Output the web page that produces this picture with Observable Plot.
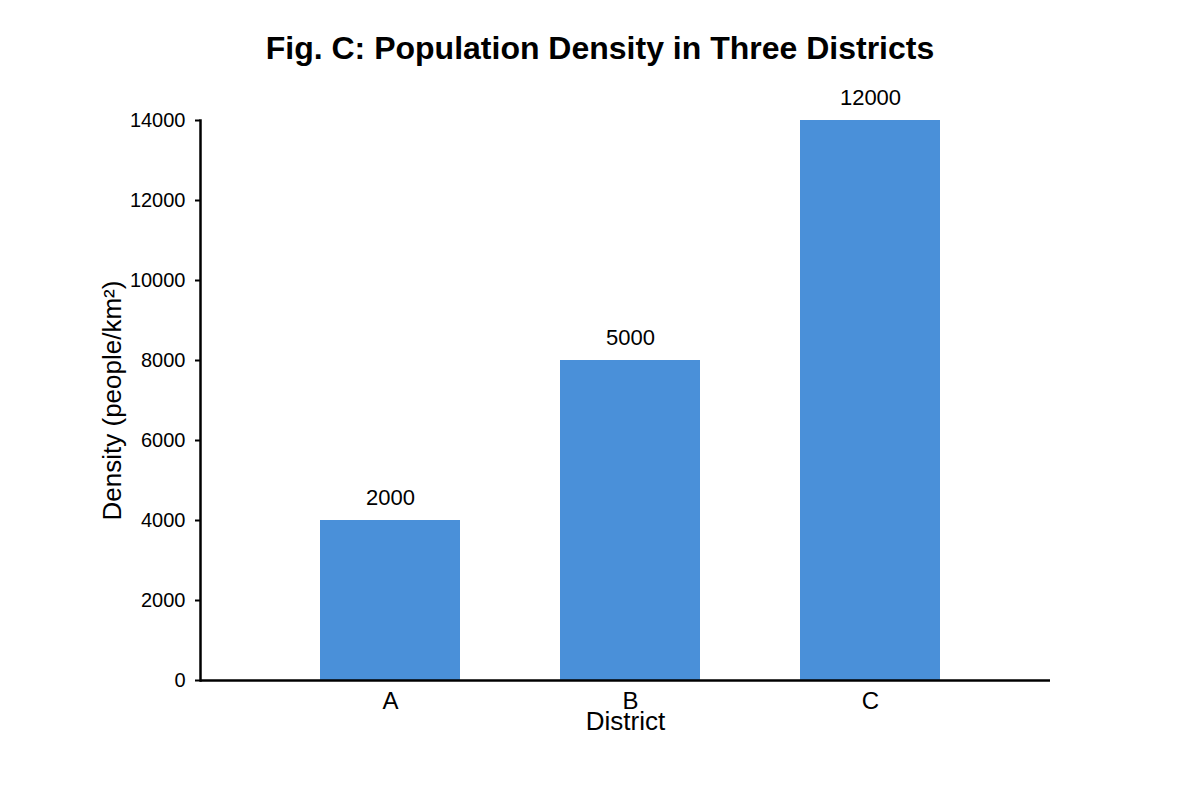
<!DOCTYPE html>
<html>
<head>
<meta charset="utf-8">
<script src="https://cdn.jsdelivr.net/npm/d3@7"></script>
<script src="https://cdn.jsdelivr.net/npm/@observablehq/plot@0.6"></script>
<style>
  html, body { margin: 0; padding: 0; background: #fff; }
  #wrap { width: 1200px; height: 800px; font-family: "Liberation Sans", Arial, sans-serif; }
  #title { height: 60px; line-height: 96px; overflow: visible; text-align: center; font-weight: bold; font-size: 32px; color: #000; position: relative; z-index: 1; }
  svg { display: block; }
</style>
</head>
<body>
<div id="wrap">
  <div id="title">Fig. C: Population Density in Three Districts</div>
  <div id="chart"></div>
</div>
<script>
const districts = ["A", "B", "C"];
const barHeights = [4000, 8000, 14000];
const valueLabels = ["2000", "5000", "12000"];
const yTicks = [0, 2000, 4000, 6000, 8000, 10000, 12000, 14000];
const xTitle = "District";
const yTitle = "Density (people/km²)";

const data = districts.map((d, i) => ({district: d, height: barHeights[i], label: valueLabels[i]}));

const chart = Plot.plot({
  width: 1200,
  height: 740,
  marginTop: 60,
  marginBottom: 120,
  marginLeft: 200,
  marginRight: 150,
  style: {fontFamily: "'Liberation Sans', Arial, sans-serif", color: "#000", background: "transparent"},
  x: {type: "band", domain: districts, range: [320, 940], paddingInner: 100 / 240, paddingOuter: 0},
  y: {domain: [0, 14000]},
  marks: [
    Plot.barY(data, {x: "district", y: "height", fill: "#4A90D9"}),
    Plot.text(data, {x: "district", y: "height", text: "label", dy: -23, fontSize: 22, fill: "#000", lineAnchor: "middle"}),
    Plot.axisY({ticks: yTicks, tickFormat: d3.format("d"), tickSize: 5, tickPadding: 10, fontSize: 20, strokeWidth: 2, label: null}),
    Plot.axisX({tickSize: 0, tickPadding: 11, fontSize: 24, label: null}),
    Plot.frame({anchor: "left", stroke: "#000", strokeWidth: 2.5}),
    Plot.ruleY([0], {stroke: "#000", strokeWidth: 2.5}),
    Plot.text([xTitle], {frameAnchor: "bottom", dy: 41, fontSize: 26, fill: "#000", lineAnchor: "middle", textAnchor: "middle"}),
    Plot.text([yTitle], {frameAnchor: "left", dx: -88, rotate: -90, fontSize: 26, fill: "#000", lineAnchor: "middle", textAnchor: "middle"})
  ]
});
document.getElementById("chart").appendChild(chart);
</script>
</body>
</html>
